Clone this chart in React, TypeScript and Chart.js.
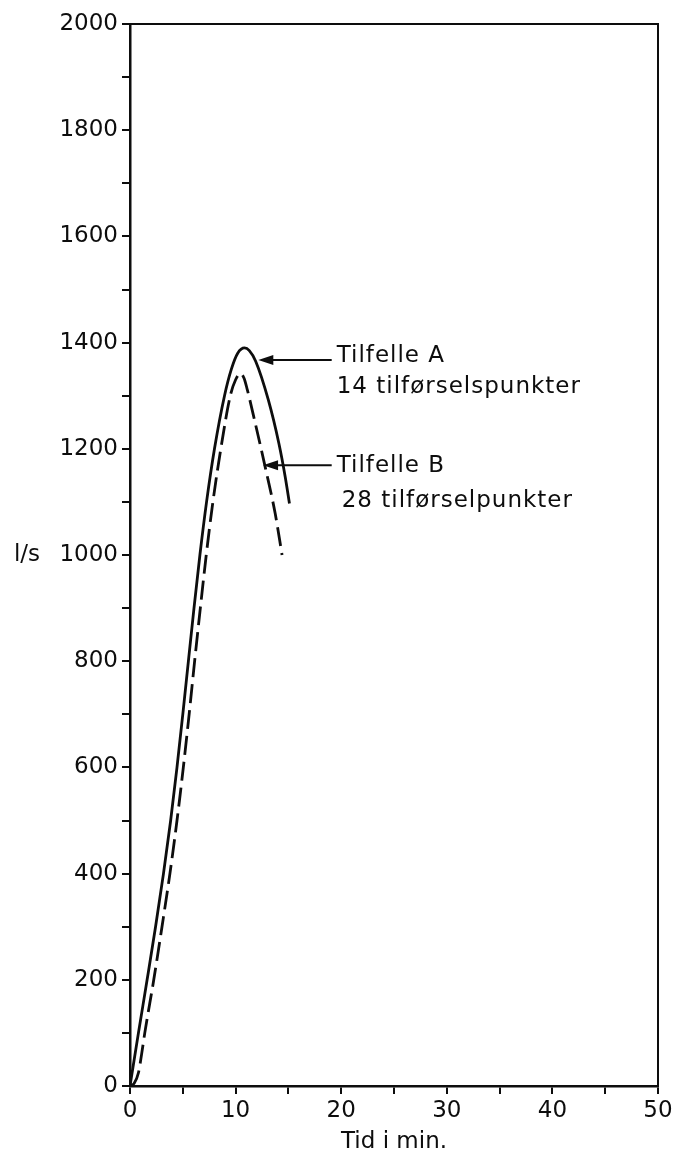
import React, { useEffect, useRef } from 'react';
import { Chart, registerables } from 'chart.js';

Chart.register(...registerables);

// Tilfelle A (solid) — time in minutes, flow in l/s
const timeA = [0, 0.8, 1.62, 2.42, 3.17, 3.85, 4.45, 5.0, 5.53, 6.06, 6.62, 7.25, 8.0, 8.95, 9.6, 10.2, 10.85, 11.3, 11.9, 13.1, 14.1, 14.7, 15.1];
const flowA = [0, 100, 200, 300, 400, 500, 600, 700, 800, 900, 1000, 1100, 1200, 1300, 1350, 1380, 1390, 1385, 1365, 1292, 1210, 1147, 1097];

// Tilfelle B (dashed)
const timeB = [0, 0.4, 0.8, 1.1, 1.4, 2.25, 3.03, 3.78, 4.45, 5.05, 5.6, 6.12, 6.66, 7.22, 7.85, 8.6, 9.5, 10.0, 10.45, 10.8, 11.1, 11.7, 12.8, 13.75, 14.4];
const flowB = [0, 5, 25, 60, 100, 200, 300, 400, 500, 600, 700, 800, 900, 1000, 1100, 1200, 1300, 1330, 1342, 1333, 1312, 1262, 1166, 1078, 1000];

const xMin = 0;
const xMax = 50;
const xStep = 5;
const xLabelEvery = 10;
const yMin = 0;
const yMax = 2000;
const yStep = 100;
const yLabelEvery = 200;

const xTitle = 'Tid i min.';
const yTitle = 'l/s';
const yTitleAt = 1000;

const labelA = ['Tilfelle A', '14 tilførselspunkter'];
const labelB = ['Tilfelle B', '28 tilførselpunkter'];
// arrow tip (x,y) on the curve, tail x (data units)
const arrowA = [12.15, 1367, 19.1];
const arrowB = [12.6, 1169, 19.1];

const INK = '#0d0d0d';
const FONT = '"DejaVu Sans", sans-serif';

const decorPlugin = {
  id: 'decor',
  afterDatasetsDraw(chart: any) {
    const { ctx, chartArea, scales } = chart;
    const x = scales.x;
    const y = scales.y;
    ctx.save();
    // top and right frame
    ctx.strokeStyle = INK;
    ctx.lineWidth = 2;
    ctx.beginPath();
    ctx.moveTo(chartArea.left, chartArea.top);
    ctx.lineTo(chartArea.right, chartArea.top);
    ctx.lineTo(chartArea.right, chartArea.bottom);
    ctx.stroke();

    // y title
    ctx.fillStyle = INK;
    ctx.font = `23px ${FONT}`;
    ctx.textAlign = 'center';
    ctx.textBaseline = 'middle';
    ctx.fillText(yTitle, chartArea.left - 103, y.getPixelForValue(yTitleAt));

    const drawArrow = (a: number[], lines: string[], dy1: number, dy2: number, dx2: number) => {
      const tx = x.getPixelForValue(a[0]);
      const ty = y.getPixelForValue(a[1]);
      const ex = x.getPixelForValue(a[2]);
      ctx.strokeStyle = INK;
      ctx.lineWidth = 2;
      ctx.beginPath();
      ctx.moveTo(tx + 12, ty);
      ctx.lineTo(ex, ty);
      ctx.stroke();
      ctx.beginPath();
      ctx.moveTo(tx, ty);
      ctx.lineTo(tx + 15, ty - 5);
      ctx.lineTo(tx + 15, ty + 5);
      ctx.closePath();
      ctx.fillStyle = INK;
      ctx.fill();
      ctx.font = `23px ${FONT}`;
      ctx.textAlign = 'left';
      ctx.textBaseline = 'alphabetic';
      (ctx as any).letterSpacing = '1px';
      ctx.fillText(lines[0], ex + 5, ty + dy1);
      ctx.fillText(lines[1], ex + 5 + dx2, ty + dy2);
      (ctx as any).letterSpacing = '0px';
    };
    drawArrow(arrowA, labelA, 2, 33, 0);
    drawArrow(arrowB, labelB, 7, 42, 5);
    ctx.restore();
  },
};

export default function App() {
  const ref = useRef<HTMLCanvasElement | null>(null);
  useEffect(() => {
    if (!ref.current) return;
    const chart = new Chart(ref.current, {
      type: 'line',
      data: {
        datasets: [
          {
            label: 'Tilfelle A',
            data: timeA.map((t, i) => ({ x: t, y: flowA[i] })),
            borderColor: INK,
            borderWidth: 2.8,
            pointRadius: 0,
            cubicInterpolationMode: 'monotone',
            fill: false,
          },
          {
            label: 'Tilfelle B',
            data: timeB.map((t, i) => ({ x: t, y: flowB[i] })),
            borderColor: INK,
            borderWidth: 2.8,
            borderDash: [19, 7],
            pointRadius: 0,
            cubicInterpolationMode: 'monotone',
            fill: false,
          },
        ],
      },
      options: {
        animation: false,
        responsive: false,
        layout: { padding: { top: 24, right: 20, left: 0, bottom: 0 } },
        plugins: { legend: { display: false }, tooltip: { enabled: false } },
        scales: {
          x: {
            type: 'linear',
            min: xMin,
            max: xMax,
            afterFit: (s: any) => { s.height = 73; },
            border: { display: true, color: INK, width: 2.5 },
            grid: { drawOnChartArea: false, drawTicks: true, tickLength: 8, color: INK, lineWidth: 2 },
            ticks: {
              stepSize: xStep,
              autoSkip: false,
              maxRotation: 0,
              padding: 3,
              color: INK,
              font: { family: FONT, size: 23 },
              callback: (v: any) => (Number(v) % xLabelEvery === 0 ? String(v) : ''),
            },
            title: {
              display: true,
              text: xTitle,
              color: INK,
              font: { family: FONT, size: 23 },
              padding: { top: 0, bottom: 3 },
            },
          },
          y: {
            type: 'linear',
            min: yMin,
            max: yMax,
            afterFit: (s: any) => { s.width = 130; },
            border: { display: true, color: INK, width: 2.5 },
            grid: { drawOnChartArea: false, drawTicks: true, tickLength: 8, color: INK, lineWidth: 2 },
            ticks: {
              stepSize: yStep,
              autoSkip: false,
              padding: 4,
              color: INK,
              font: { family: FONT, size: 23 },
              callback: (v: any) => (Number(v) % yLabelEvery === 0 ? String(v) : ''),
            },
          },
        },
      },
      plugins: [decorPlugin],
    } as any);
    return () => chart.destroy();
  }, []);
  return (
    <div style={{ position: 'absolute', left: 0, top: 0, width: 678, height: 1159, background: '#fff' }}>
      <canvas ref={ref} width={678} height={1159} style={{ display: 'block' }} />
    </div>
  );
}
